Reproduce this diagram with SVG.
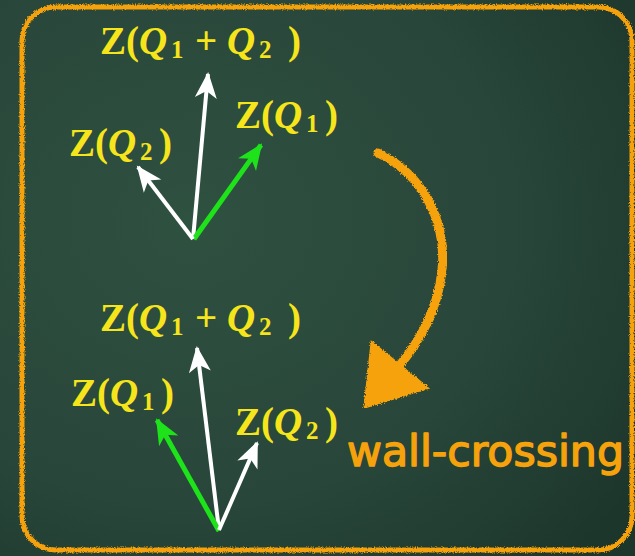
<svg xmlns="http://www.w3.org/2000/svg" width="635" height="556" viewBox="0 0 635 556">
<defs>
<radialGradient id="bg" cx="0.3" cy="0.4" r="0.85">
<stop offset="0" stop-color="#2f5140"/>
<stop offset="0.6" stop-color="#28463a"/>
<stop offset="1" stop-color="#1d362b"/>
</radialGradient>
<filter id="chalk" x="-5%" y="-5%" width="110%" height="110%">
<feTurbulence type="fractalNoise" baseFrequency="0.9" numOctaves="2" seed="3" result="n"/>
<feDisplacementMap in="SourceGraphic" in2="n" scale="4" xChannelSelector="R" yChannelSelector="G"/>
</filter>
<marker id="hw" markerUnits="userSpaceOnUse" markerWidth="30" markerHeight="30" viewBox="-26 -13 30 26" refX="0" refY="0" orient="auto">
<path d="M2,0 L-24,-11 L-17,0 L-24,11 Z" fill="#ffffff"/>
</marker>
<marker id="hg" markerUnits="userSpaceOnUse" markerWidth="30" markerHeight="30" viewBox="-26 -13 30 26" refX="0" refY="0" orient="auto">
<path d="M2,0 L-24,-11 L-17,0 L-24,11 Z" fill="#1ee21a"/>
</marker>
<style>
.lab{font-family:"Liberation Serif","DejaVu Serif",serif;font-size:39px;font-weight:bold;fill:#f6e51b}
.it{font-style:italic}
.sub{font-size:25px}
.vw{stroke:#ffffff;stroke-width:4;fill:none}
.vg{stroke:#1ee21a;stroke-width:5;fill:none}
.chalk{stroke:#f6a20c;fill:none;filter:url(#chalk)}
</style>
</defs>
<rect width="635" height="556" fill="url(#bg)"/>
<rect class="chalk" x="22" y="7" width="610" height="543" rx="34" stroke-width="5"/>

<g id="connectors">
<line class="vw" x1="193" y1="239" x2="208" y2="74" marker-end="url(#hw)"/>
<line class="vg" x1="194" y1="239" x2="261" y2="145" marker-end="url(#hg)"/>
<line class="vw" x1="193" y1="239" x2="138" y2="167" marker-end="url(#hw)"/>
<line class="vw" x1="219" y1="530" x2="197" y2="348" marker-end="url(#hw)"/>
<line class="vg" x1="219" y1="531" x2="157" y2="420" marker-end="url(#hg)"/>
<line class="vw" x1="219" y1="530" x2="257" y2="443" marker-end="url(#hw)"/>
<g id="wall-arrow" class="chalk">
<path d="M378,153 C425,175 447,225 442,270 C438,310 420,340 400,365" stroke-width="9" stroke-linecap="round"/>
<path d="M372,343 L427,388 L365,407 Z" fill="#f6a20c" stroke-width="3"/>
</g>
</g>

<g id="top-sum"><text class="lab" y="54"><tspan x="100">Z</tspan><tspan x="126">(</tspan><tspan class="it" x="139">Q</tspan><tspan class="sub" x="171" dy="4">1</tspan><tspan x="195" dy="-4">+</tspan><tspan class="it" x="227">Q</tspan><tspan class="sub" x="259" dy="4">2</tspan><tspan x="288" dy="-4">)</tspan></text></g>
<g id="top-q1"><text class="lab" y="128"><tspan x="235">Z</tspan><tspan x="261">(</tspan><tspan class="it" x="274">Q</tspan><tspan class="sub" x="306" dy="4">1</tspan><tspan x="325" dy="-4">)</tspan></text></g>
<g id="top-q2"><text class="lab" y="156"><tspan x="69">Z</tspan><tspan x="95">(</tspan><tspan class="it" x="108">Q</tspan><tspan class="sub" x="140" dy="4">2</tspan><tspan x="159" dy="-4">)</tspan></text></g>

<g id="bot-sum"><text class="lab" y="331"><tspan x="100">Z</tspan><tspan x="126">(</tspan><tspan class="it" x="139">Q</tspan><tspan class="sub" x="171" dy="4">1</tspan><tspan x="195" dy="-4">+</tspan><tspan class="it" x="227">Q</tspan><tspan class="sub" x="259" dy="4">2</tspan><tspan x="288" dy="-4">)</tspan></text></g>
<g id="bot-q1"><text class="lab" y="406"><tspan x="71">Z</tspan><tspan x="97">(</tspan><tspan class="it" x="110">Q</tspan><tspan class="sub" x="142" dy="4">1</tspan><tspan x="161" dy="-4">)</tspan></text></g>
<g id="bot-q2"><text class="lab" y="435"><tspan x="235">Z</tspan><tspan x="261">(</tspan><tspan class="it" x="274">Q</tspan><tspan class="sub" x="306" dy="4">2</tspan><tspan x="325" dy="-4">)</tspan></text></g>

<g id="wall-label"><text x="347" y="466" textLength="277" lengthAdjust="spacingAndGlyphs" font-family="'DejaVu Sans',sans-serif" font-size="42" fill="#f6a20c" stroke="#f6a20c" stroke-width="1.4" stroke-linejoin="round">wall-crossing</text></g>
</svg>
